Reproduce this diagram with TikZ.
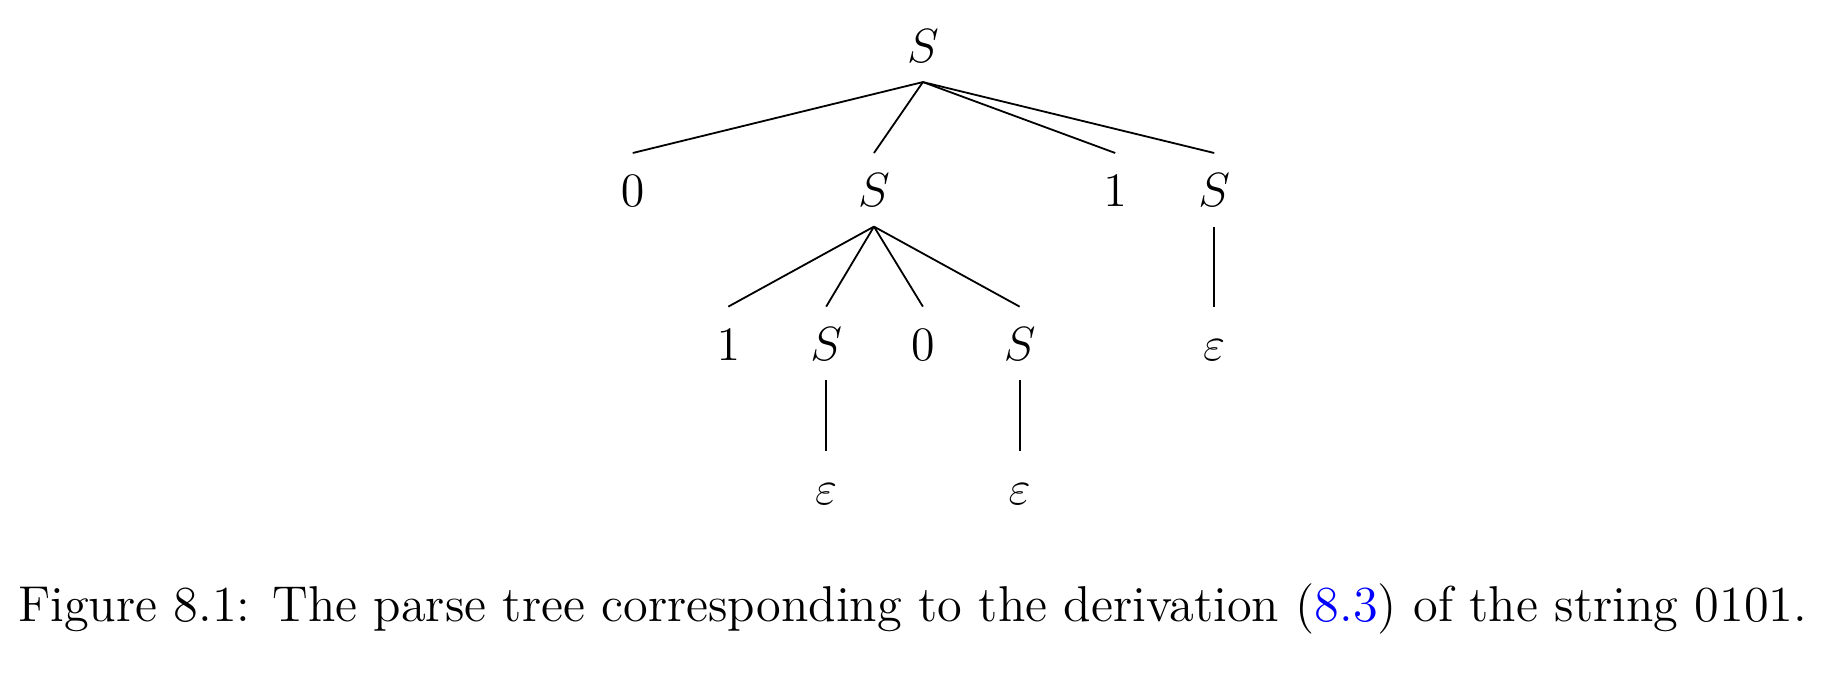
\documentclass[tikz,border=0pt]{standalone}
\usepackage{xcolor}
\usetikzlibrary{positioning}

\begin{document}
\begin{tikzpicture}[
				sym/.style={inner sep=0pt, minimum height=18pt, text height=8.5pt, text depth=0pt, font=\fontsize{12.5}{15}\selectfont},
				branch/.style={line width=0.45pt},
			]
				\useasboundingbox (0,0) rectangle (16.204,6.028);

				% level 0 and 1
				\node[sym] (s0) at (8.11,5.63) {$S$};
				\node[sym] (z1) at (5.56,4.36) {$0$};
				\node[sym] (s1) at (7.68,4.36) {$S$};
				\node[sym] (o1) at (9.80,4.36) {$1$};
				\node[sym] (s2) at (10.67,4.36) {$S$};

				% level 2
				\node[sym] (o2) at (6.40,3.01) {$1$};
				\node[sym] (s3) at (7.26,3.01) {$S$};
				\node[sym] (z2) at (8.11,3.01) {$0$};
				\node[sym] (s4) at (8.96,3.01) {$S$};
				\node[sym] (e1) at (s2|-s4) {$\varepsilon$};

				% level 3
				\node[sym] (e2) at (7.26,1.74) {$\varepsilon$};
				\node[sym] (e3) at (8.96,1.74) {$\varepsilon$};

				\foreach \c in {z1,s1,o1,s2}
					\draw[branch] (s0.south) -- (\c.north);
				\foreach \c in {o2,s3,z2,s4}
					\draw[branch] (s1.south) -- (\c.north);
				\draw[branch] (s2.south) -- (e1.north);
				\draw[branch] (s3.south) -- (e2.north);
				\draw[branch] (s4.south) -- (e3.north);

				\node[font=\fontsize{12.6}{15}\selectfont] (cap) at (8.02,0.68) {Figure 8.1: The parse tree corresponding to the derivation (\textcolor{blue}{8.3}) of the string 0101.};
			\end{tikzpicture}
\end{document}
